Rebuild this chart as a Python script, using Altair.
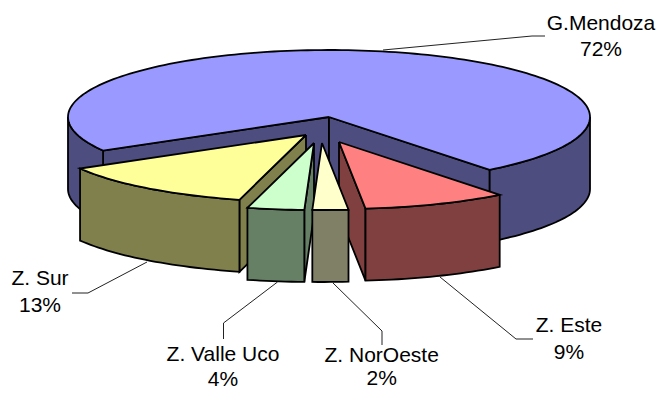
import numpy as np
import pandas as pd
import altair as alt

names = ["Z. Este", "Z. NorOeste", "Z. Valle Uco", "Z. Sur", "G.Mendoza"]
values = [8.9, 2.2, 3.5, 12.5, 72.49]
pct_labels = ["9%", "2%", "4%", "13%", "72%"]
top_colors = ["#FF8080", "#FFFFCC", "#CCFFCC", "#FFFF99", "#9999FF"]
side_colors = ["#804040", "#808066", "#668066", "#80804D", "#4D4D80"]
# exploded tip of each slice (page pixels)
tip_x = [339, 322, 314, 306, 329]
tip_y = [142, 143, 143, 135, 117]
label_x = [569, 381.7, 223, 40, 601]
label_y = [326, 356, 355, 279, 24]
pct_y = [353, 379, 380, 306, 50]
leader_x = [[440, 516, 533], [333, 382, 382], [277.5, 223.5, 223.5], [147, 88, 72], [383, 532, 545]]
leader_y = [[277, 339, 339], [283, 331, 345], [282, 323, 339], [262, 293, 293], [50, 36, 36]]
draw_order = [4, 3, 2, 0, 1]

RX, RY, DEPTH, START = 261, 67, 72, 52
FONT = "Liberation Sans"
FONT_SIZE = 21

xs = alt.Scale(domain=[8, 656], nice=False, zero=False)
ys = alt.Scale(domain=[390, 8], nice=False, zero=False)


def poly(px, py, fill):
    px, py = list(px), list(py)
    df = pd.DataFrame({"x": px + px[:1], "y": py + py[:1]})
    df["i"] = range(len(df))
    return alt.Chart(df).mark_line(
        fill=fill, stroke="black", strokeWidth=1.8, strokeJoin="miter", clip=False
    ).encode(
        x=alt.X("x:Q", scale=xs, axis=None),
        y=alt.Y("y:Q", scale=ys, axis=None),
        order="i:Q",
    )


def arc(cx, cy, a0, a1):
    n = max(2, int(abs(a1 - a0) / 1.5) + 2)
    t = np.radians(np.linspace(a0, a1, n))
    return cx + RX * np.cos(t), cy + RY * np.sin(t)


total = sum(values)
edges = [START]
for v in values:
    edges.append(edges[-1] + v / total * 360)

layers = []
for k in draw_order:
    a0, a1 = edges[k], edges[k + 1]
    cx, cy = tip_x[k], tip_y[k]
    # radial walls facing the viewer
    for a, visible in ((a0, np.cos(np.radians(a0)) < 0), (a1, np.cos(np.radians(a1)) > 0)):
        if visible:
            ex = cx + RX * np.cos(np.radians(a))
            ey = cy + RY * np.sin(np.radians(a))
            layers.append(poly([cx, ex, ex, cx], [cy, ey, ey + DEPTH, cy + DEPTH], side_colors[k]))
    # outer rim, front half only
    for lo, hi in ((0, 180), (360, 540)):
        s, e = max(a0, lo), min(a1, hi)
        if e > s:
            ax, ay = arc(cx, cy, s, e)
            layers.append(poly(
                np.concatenate([ax, ax[::-1]]),
                np.concatenate([ay, ay[::-1] + DEPTH]),
                side_colors[k],
            ))
    ax, ay = arc(cx, cy, a0, a1)
    layers.append(poly(np.concatenate([[cx], ax]), np.concatenate([[cy], ay]), top_colors[k]))

for k in range(len(names)):
    df = pd.DataFrame({"x": leader_x[k], "y": leader_y[k], "i": range(3)})
    layers.append(alt.Chart(df).mark_line(stroke="#222222", strokeWidth=1).encode(
        x=alt.X("x:Q", scale=xs, axis=None),
        y=alt.Y("y:Q", scale=ys, axis=None),
        order="i:Q",
    ))
    df = pd.DataFrame({
        "x": [label_x[k], label_x[k]],
        "y": [label_y[k], pct_y[k]],
        "t": [names[k], pct_labels[k]],
    })
    layers.append(alt.Chart(df).mark_text(
        font=FONT, fontSize=FONT_SIZE, color="black", baseline="middle", align="center"
    ).encode(
        x=alt.X("x:Q", scale=xs, axis=None),
        y=alt.Y("y:Q", scale=ys, axis=None),
        text="t:N",
    ))

chart = alt.layer(*layers).properties(
    width=648, height=382, padding=0, autosize=alt.AutoSizeParams(type="none"),
    background="white",
).configure_view(stroke=None)

chart.save("out.html", embed_options={"renderer": "svg", "actions": False})
